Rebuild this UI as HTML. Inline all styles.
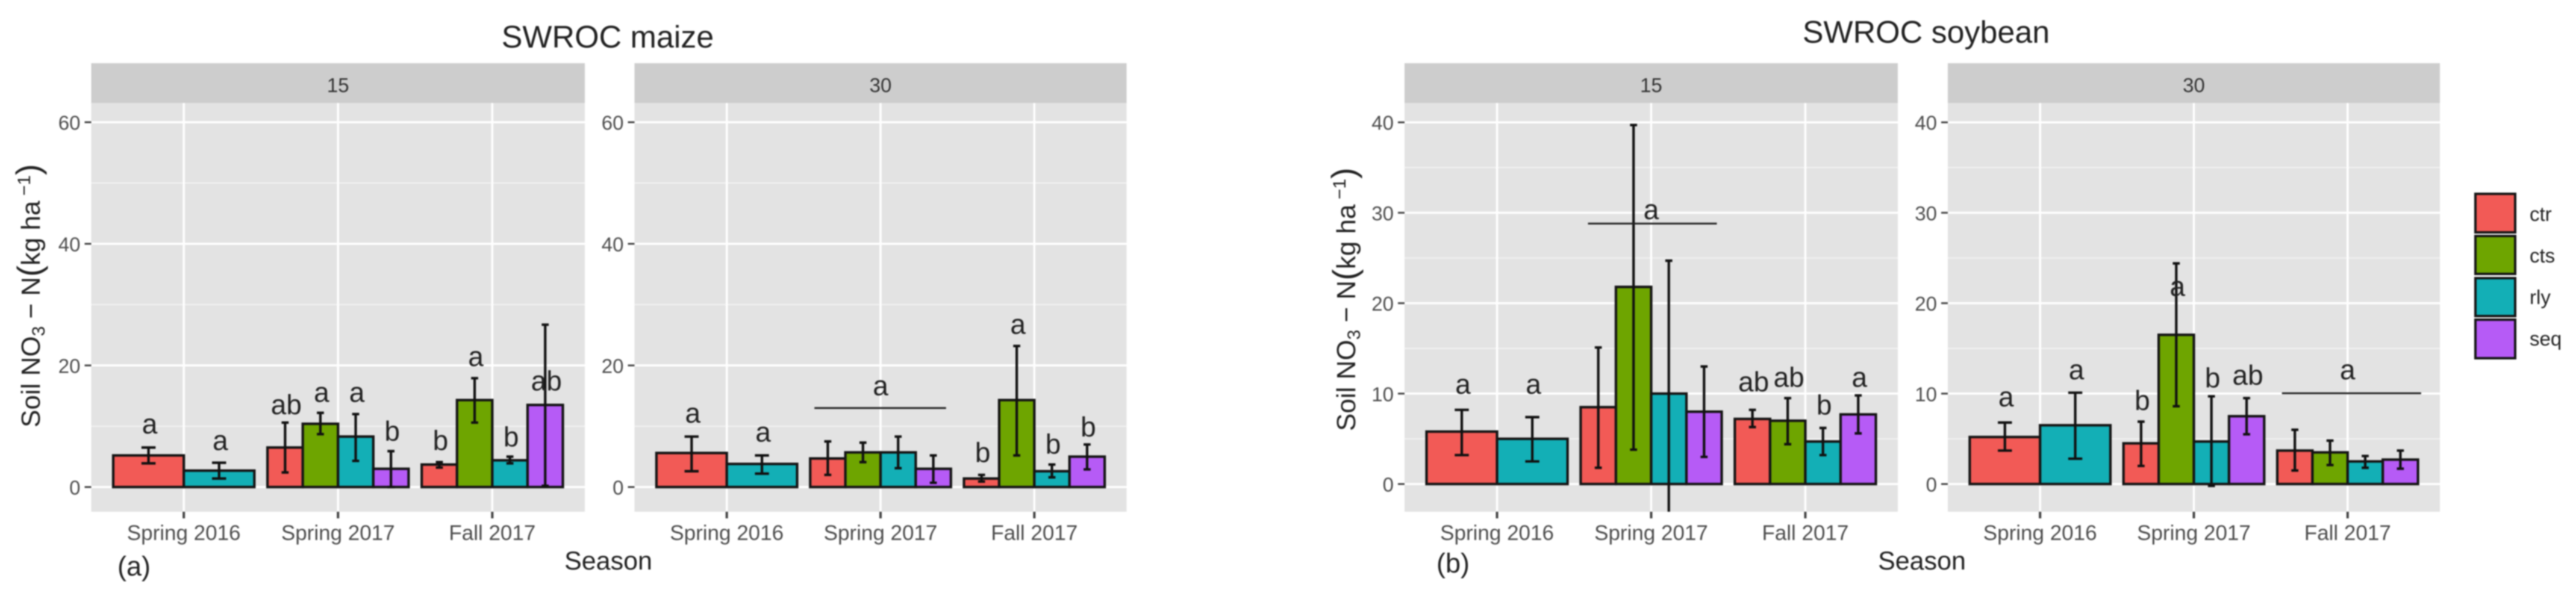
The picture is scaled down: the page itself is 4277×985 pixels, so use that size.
<!DOCTYPE html>
<html lang="en">
<head>
<meta charset="utf-8">
<title>SWROC soil nitrate</title>
<style>
html,body{margin:0;padding:0;background:#fff;width:4277px;height:985px;overflow:hidden}
svg{display:block;font-family:"Liberation Sans",sans-serif;filter:blur(1px)}
</style>
</head>
<body>
<svg id="chart" xmlns="http://www.w3.org/2000/svg" width="4277" height="985" viewBox="0 0 4277 985">
  <rect x="0" y="0" width="4277" height="985" fill="#fff"/>
  <text x="1009" y="79" font-size="52" fill="#222" text-anchor="middle">SWROC maize</text>
  <text x="3198" y="71" font-size="52" fill="#222" text-anchor="middle">SWROC soybean</text>
  <text x="1010" y="946" font-size="43" fill="#222" text-anchor="middle">Season</text>
  <text x="3191" y="946" font-size="43" fill="#222" text-anchor="middle">Season</text>
  <text x="195" y="956" font-size="45" fill="#222">(a)</text>
  <text x="2385" y="951" font-size="45" fill="#222">(b)</text>
  <text transform="translate(66,710) rotate(-90)" font-size="44" fill="#222" xml:space="preserve">Soil NO<tspan font-size="30" dy="8">3</tspan><tspan dy="-8"> − N</tspan><tspan font-size="56" dy="2">(</tspan><tspan dy="-2">kg ha</tspan><tspan font-size="30" dy="-16"> −1</tspan><tspan font-size="56" dy="16">)</tspan></text>
  <text transform="translate(2250,716) rotate(-90)" font-size="44" fill="#222" xml:space="preserve">Soil NO<tspan font-size="30" dy="8">3</tspan><tspan dy="-8"> − N</tspan><tspan font-size="56" dy="2">(</tspan><tspan dy="-2">kg ha</tspan><tspan font-size="30" dy="-16"> −1</tspan><tspan font-size="56" dy="16">)</tspan></text>
  <g>
    <rect x="4110" y="322" width="66" height="64" fill="#f25a56" stroke="#151515" stroke-width="4"/>
    <rect x="4110" y="392" width="66" height="63" fill="#6ea500" stroke="#151515" stroke-width="4"/>
    <rect x="4110" y="462" width="66" height="63" fill="#13afb6" stroke="#151515" stroke-width="4"/>
    <rect x="4110" y="531" width="66" height="64" fill="#b65bf6" stroke="#151515" stroke-width="4"/>
    <text x="4200" y="367" font-size="33" fill="#222">ctr</text>
    <text x="4200" y="436" font-size="33" fill="#222">cts</text>
    <text x="4200" y="505" font-size="33" fill="#222">rly</text>
    <text x="4200" y="574" font-size="33" fill="#222">seq</text>
  </g>
</svg>
<script>
// ---- shared categories and axes ----
const categories = ['Spring 2016', 'Spring 2017', 'Fall 2017'];
const treatments = ['ctr', 'cts', 'rly', 'seq'];
const fills = ['#f25a56', '#6ea500', '#13afb6', '#b65bf6'];
const maizeTicks = [0, 20, 40, 60];
const maizeMinorTicks = [10, 30, 50];
const soyTicks = [0, 10, 20, 30, 40];
const soyMinorTicks = [5, 15, 25, 35];

// ---- maize, depth 15 (rows: seasons, columns: ctr cts rly seq) ----
const maize15Means = [[5.2, null, 2.7, null], [6.5, 10.4, 8.3, 3.0], [3.7, 14.3, 4.4, 13.5]];
const maize15Upper = [[6.5, null, 4.0, null], [10.6, 12.2, 12.0, 5.9], [4.1, 17.9, 5.0, 26.7]];
const maize15Lower = [[3.9, null, 1.4, null], [2.4, 8.7, 4.3, 0.0], [3.2, 10.6, 3.9, 0.2]];
const maize15Letters = [['a', null, 'a', null], ['ab', 'a', 'a', 'b'], ['b', 'a', 'b', 'ab']];
const maize15LetterY = [[8.8, null, 6.1, null], [12.0, 14.0, 14.0, 7.6], [6.1, 19.9, 6.7, 15.9]];
const maize15Groups = [];

// ---- maize, depth 30 ----
const maize30Means = [[5.6, null, 3.8, null], [4.7, 5.7, 5.7, 3.0], [1.4, 14.3, 2.6, 5.0]];
const maize30Upper = [[8.3, null, 5.2, null], [7.5, 7.3, 8.3, 5.2], [2.0, 23.2, 3.7, 7.0]];
const maize30Lower = [[2.6, null, 2.2, null], [2.0, 4.1, 3.1, 0.7], [0.9, 5.2, 1.6, 2.9]];
const maize30Letters = [['a', null, 'a', null], [null, null, null, null], ['b', 'a', 'b', 'b']];
const maize30LetterY = [[10.6, null, 7.5, null], [null, null, null, null], [4.1, 25.2, 5.5, 8.3]];
const maize30Groups = [{ season: 1, from: -0.43, to: 0.426, level: 13.0, letter: 'a', letterLevel: 15.1 }];

// ---- soybean, depth 15 ----
const soy15Means = [[5.8, null, 5.0, null], [8.5, 21.8, 10.0, 8.0], [7.2, 7.0, 4.7, 7.7]];
const soy15Upper = [[8.2, null, 7.4, null], [15.1, 39.7, 24.7, 13.0], [8.2, 9.5, 6.2, 9.8]];
const soy15Lower = [[3.2, null, 2.5, null], [1.8, 3.8, -4.7, 3.0], [6.3, 4.4, 3.2, 5.6]];
const soy15Letters = [['a', null, 'a', null], [null, null, null, null], ['ab', 'ab', 'b', 'a']];
const soy15LetterY = [[10.0, null, 10.0, null], [null, null, null, null], [10.25, 10.75, 7.7, 10.75]];
const soy15Groups = [{ season: 1, from: -0.41, to: 0.426, level: 28.8, letter: 'a', letterLevel: 29.3 }];

// ---- soybean, depth 30 ----
const soy30Means = [[5.2, null, 6.5, null], [4.5, 16.5, 4.7, 7.5], [3.7, 3.5, 2.5, 2.7]];
const soy30Upper = [[6.8, null, 10.1, null], [6.9, 24.4, 9.7, 9.5], [6.0, 4.8, 3.1, 3.7]];
const soy30Lower = [[3.7, null, 2.8, null], [2.0, 8.6, -0.2, 5.5], [1.5, 2.1, 1.8, 1.7]];
const soy30Letters = [['a', null, 'a', null], ['b', 'a', 'b', 'ab'], [null, null, null, null]];
const soy30LetterY = [[8.6, null, 11.6, null], [8.2, 20.8, 10.7, 11.0], [null, null, null, null]];
const soy30Groups = [{ season: 2, from: -0.427, to: 0.478, level: 10.04, letter: 'a', letterLevel: 11.6 }];

const SVG_NS = 'http://www.w3.org/2000/svg';
const chart = document.getElementById('chart');

function make(tag, parent, attrs, text) {
  const el = document.createElementNS(SVG_NS, tag);
  for (const key in attrs) el.setAttribute(key, attrs[key]);
  if (text !== undefined) el.textContent = text;
  parent.appendChild(el);
  return el;
}

function drawPanel(cfg) {
  const top = 171, bottom = 850, stripTop = 105;
  const stepX = (cfg.right - cfg.left) / 3.2;
  const xPos = c => cfg.left + (0.6 + c) * stepX;
  const yPos = v => cfg.zero - v * cfg.unit;
  const id = cfg.id;

  const panel = make('g', chart, {});
  
  

  const clip = make('clipPath', panel, { id: id + '-clip' });
  make('rect', clip, { x: cfg.left, y: top, width: cfg.right - cfg.left, height: bottom - top });

  const strip = make('rect', panel, { x: cfg.left, y: stripTop, width: cfg.right - cfg.left, height: top - stripTop, fill: '#cdcdcd' });
  
  

  const stripLabel = make('text', panel, { x: (cfg.left + cfg.right) / 2, y: 153, 'font-size': 33, fill: '#333', 'text-anchor': 'middle' }, cfg.depth);
  
  

  const bg = make('rect', panel, { x: cfg.left, y: top, width: cfg.right - cfg.left, height: bottom - top, fill: '#e3e3e3' });
  
  

  cfg.minor.forEach(v => {
    const line = make('line', panel, { x1: cfg.left, x2: cfg.right, y1: yPos(v), y2: yPos(v), stroke: '#f2f2f2', 'stroke-width': 2 });
    
    
  });

  cfg.ticks.forEach(v => {
    const line = make('line', panel, { x1: cfg.left, x2: cfg.right, y1: yPos(v), y2: yPos(v), stroke: '#fff', 'stroke-width': 3.5 });
    
    
    const tick = make('line', panel, { x1: cfg.left - 11, x2: cfg.left, y1: yPos(v), y2: yPos(v), stroke: '#444', 'stroke-width': 3 });
    
    
    const label = make('text', panel, { x: cfg.left - 18, y: yPos(v) + 12.5, 'font-size': 33, fill: '#4d4d4d', 'text-anchor': 'end' }, String(v));
    
    
  });

  categories.forEach((cat, c) => {
    const cx = xPos(c);
    const grid = make('line', panel, { x1: cx, x2: cx, y1: top, y2: bottom, stroke: '#fff', 'stroke-width': 3.5 });
    
    
    const tick = make('line', panel, { x1: cx, x2: cx, y1: bottom, y2: bottom + 11, stroke: '#444', 'stroke-width': 4 });
    
    
    const label = make('text', panel, { x: cx, y: 897, 'font-size': 35, fill: '#4d4d4d', 'text-anchor': 'middle' }, cat);
    
    
  });

  const marks = make('g', panel, { 'clip-path': 'url(#' + id + '-clip)' });
  
  

  categories.forEach((cat, c) => {
    const present = treatments.map((t, i) => i).filter(i => cfg.means[c][i] !== null);
    const barW = 0.915 * stepX / present.length;
    const start = xPos(c) - barW * present.length / 2;
    const slug = cat.toLowerCase().replace(' ', '-');
    present.forEach((i, slot) => {
      const x0 = start + slot * barW;
      const bar = make('rect', marks, { x: x0, y: yPos(cfg.means[c][i]), width: barW, height: yPos(0) - yPos(cfg.means[c][i]), fill: fills[i], stroke: '#151515', 'stroke-width': 4.2 });
      
      
    });
    present.forEach((i, slot) => {
      const mid = start + (slot + 0.5) * barW;
      const cap = barW * 0.1;
      const yHi = yPos(cfg.upper[c][i]), yLo = yPos(cfg.lower[c][i]);
      const err = make('path', marks, { d: 'M' + (mid - cap) + ' ' + yHi + 'H' + (mid + cap) + 'M' + mid + ' ' + yHi + 'V' + yLo + 'M' + (mid - cap) + ' ' + yLo + 'H' + (mid + cap), fill: 'none', stroke: '#111', 'stroke-width': 4.2 });
      
      
    });
    present.forEach((i, slot) => {
      if (cfg.letters[c][i] === null) return;
      const mid = start + (slot + 0.5) * barW;
      const letter = make('text', panel, { x: mid + 2, y: yPos(cfg.letterY[c][i]), 'font-size': 46, fill: '#222', 'text-anchor': 'middle' }, cfg.letters[c][i]);
      
      
    });
  });

  cfg.groups.forEach(g => {
    const cx = xPos(g.season);
    const line = make('line', panel, { x1: cx + g.from * stepX, x2: cx + g.to * stepX, y1: yPos(g.level), y2: yPos(g.level), stroke: '#222', 'stroke-width': 3 });
    
    
    const letter = make('text', panel, { x: cx, y: yPos(g.letterLevel), 'font-size': 46, fill: '#222', 'text-anchor': 'middle' }, g.letter);
    
    
  });
}

drawPanel({ id: 'maize-15', depth: '15', left: 151.5, right: 971, zero: 809, unit: 10.1, ticks: maizeTicks, minor: maizeMinorTicks, means: maize15Means, upper: maize15Upper, lower: maize15Lower, letters: maize15Letters, letterY: maize15LetterY, groups: maize15Groups });
drawPanel({ id: 'maize-30', depth: '30', left: 1053.5, right: 1870.5, zero: 809, unit: 10.1, ticks: maizeTicks, minor: maizeMinorTicks, means: maize30Means, upper: maize30Upper, lower: maize30Lower, letters: maize30Letters, letterY: maize30LetterY, groups: maize30Groups });
drawPanel({ id: 'soybean-15', depth: '15', left: 2332, right: 3151, zero: 804, unit: 15.02, ticks: soyTicks, minor: soyMinorTicks, means: soy15Means, upper: soy15Upper, lower: soy15Lower, letters: soy15Letters, letterY: soy15LetterY, groups: soy15Groups });
drawPanel({ id: 'soybean-30', depth: '30', left: 3234, right: 4051, zero: 804, unit: 15.02, ticks: soyTicks, minor: soyMinorTicks, means: soy30Means, upper: soy30Upper, lower: soy30Lower, letters: soy30Letters, letterY: soy30LetterY, groups: soy30Groups });
</script>
</body>
</html>
